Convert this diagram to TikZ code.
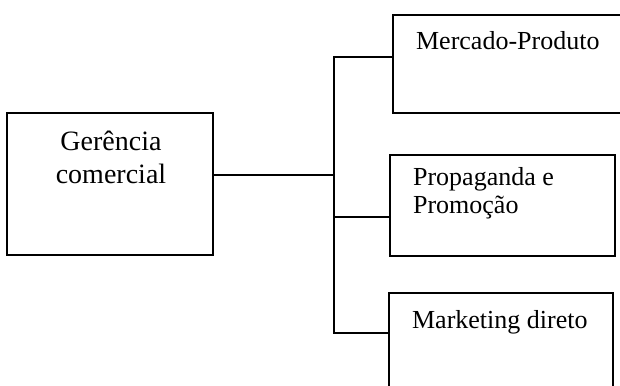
\documentclass[tikz,border=0pt]{standalone}
\usepackage{fontspec}
\setmainfont{Liberation Serif}

\begin{document}
\begin{tikzpicture}[x=0.5pt,y=-0.5pt,line width=1.1pt,
	caixa/.style={draw,rectangle,inner sep=0pt},
	rotulo/.style={inner sep=0pt,font=\fontsize{13}{14}\selectfont}]
		\useasboundingbox (0,0) rectangle (620,385);
		\clip (0,0) rectangle (620,385);
		%caixas
		\node[caixa,minimum width=103pt,minimum height=71pt] (gerencia) at (110,184) {};
		\node[caixa,minimum width=133.5pt,minimum height=49pt] (mercado) at (526.5,64) {};
		\node[caixa,minimum width=112.5pt,minimum height=50.5pt] (propaganda) at (502.5,205.5) {};
		\node[caixa,minimum width=112pt,minimum height=51pt] (marketing) at (501,344) {};
		
		\node[rotulo,font=\fontsize{14}{16.5}\selectfont,align=center,anchor=base] (tgerencia) at (111,183) {Gerência\\comercial};
		\node[rotulo,anchor=base west] (tmercado) at (415,50) {Mercado-Produto};
		\node[rotulo,align=left,anchor=base west] (tpropaganda) at (412,213) {Propaganda e\\Promoção};
		\node[rotulo,anchor=base west] (tmarketing) at (411,328) {Marketing direto};
		
		%ligacoes
		\coordinate (t1) at (334,57);
		\coordinate (t2) at (334,175);
		\coordinate (t3) at (334,217);
		\coordinate (t4) at (334,333);
		\draw (t1 -| mercado.west)--(t1)--(t4)--(t4 -| marketing.west);
		\draw (t2 -| gerencia.east)--(t2);
		\draw (t3)--(t3 -| propaganda.west);
	\end{tikzpicture}
\end{document}
